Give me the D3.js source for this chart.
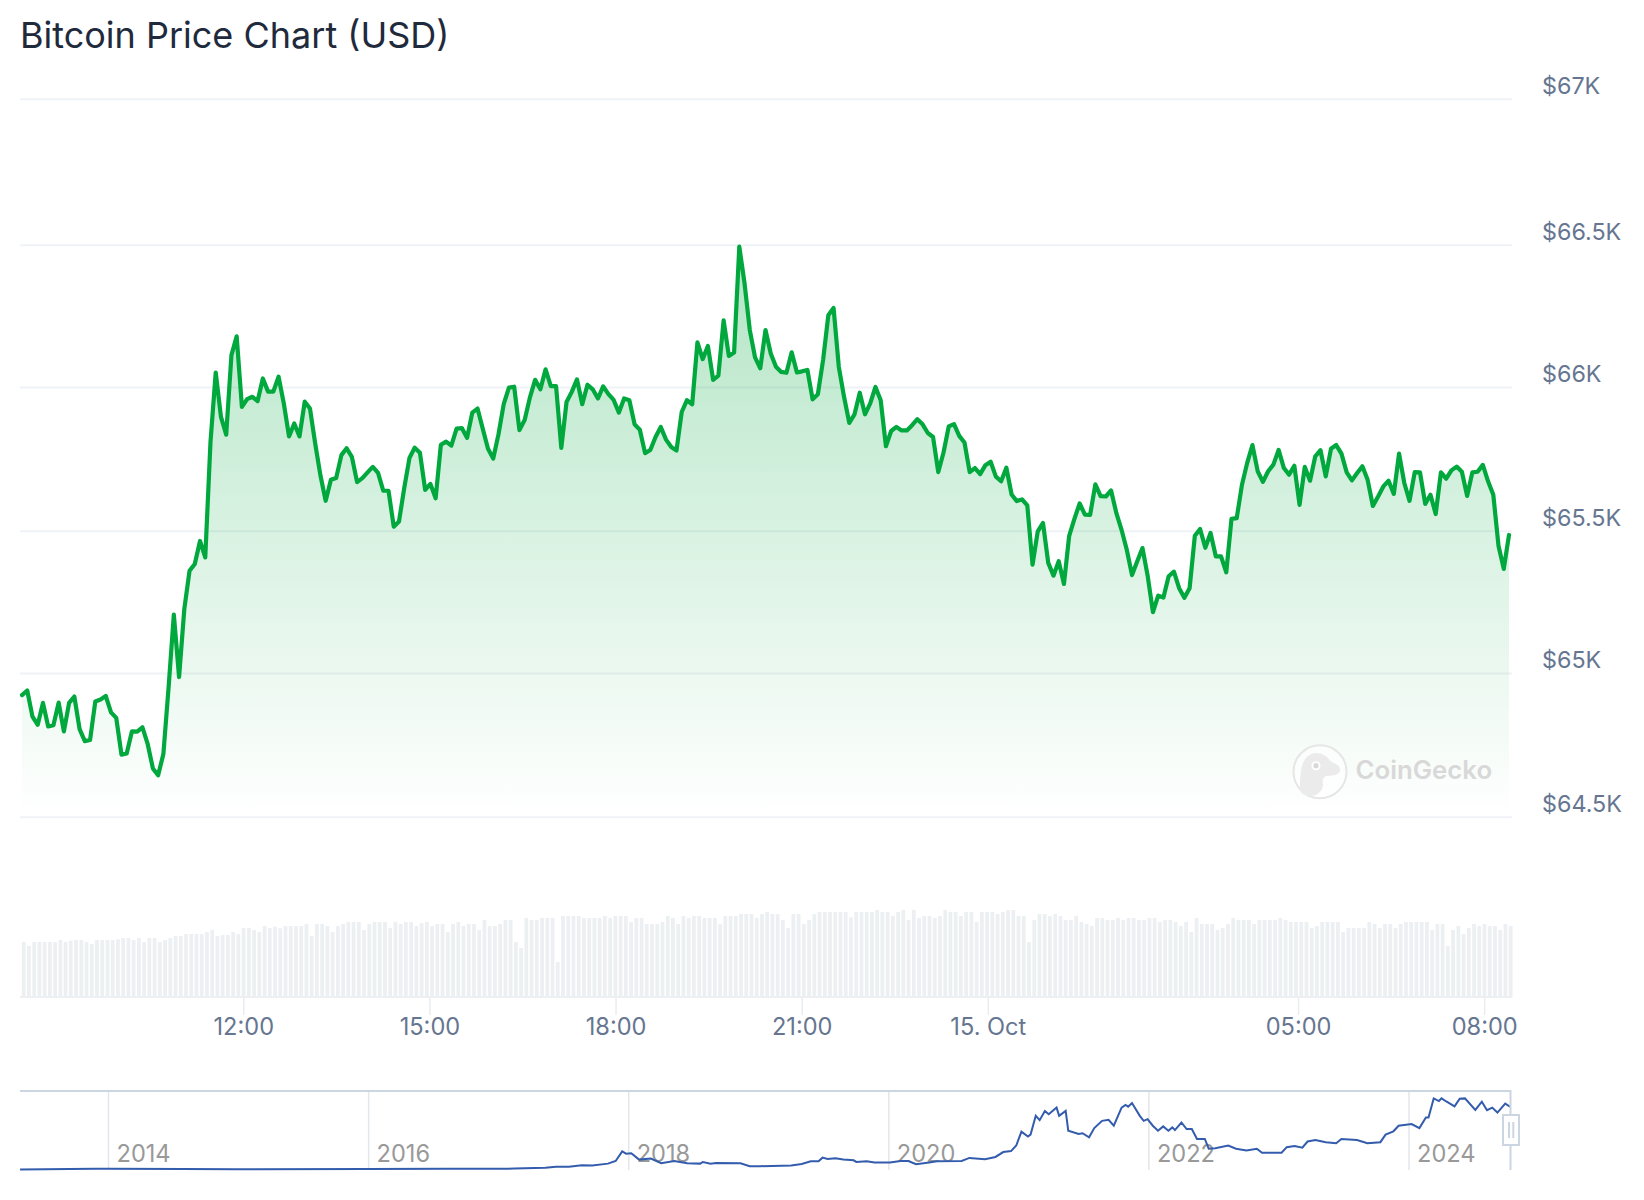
<!DOCTYPE html>
<html>
<head>
<meta charset="utf-8">
<title>Bitcoin Price Chart (USD)</title>
<script src="https://cdn.jsdelivr.net/npm/d3@7"></script>
<style>
html, body { margin: 0; padding: 0; background: #fff; }
text { font-family: Inter, "Noto Sans", sans-serif; }
</style>
</head>
<body>
<div id="chart"></div>
<script>
var width_chart = 1644
var height_chart = 1200

// 24h price, USD
var price_values = [
64923,64939,64848,64820,64896,64814,64818,64897,64797,64896,
64918,64805,64763,64767,64901,64908,64920,64863,64844,64716,
64720,64797,64796,64811,64753,64668,64644,64718,64951,65205,
64986,65225,65359,65383,65464,65406,65809,66051,65896,65834,
66112,66178,65931,65958,65966,65951,66030,65984,65984,66036,
65943,65828,65873,65828,65949,65925,65803,65692,65604,65677,
65683,65763,65787,65757,65669,65683,65703,65722,65701,65639,
65639,65514,65532,65648,65753,65789,65771,65642,65663,65613,
65799,65810,65796,65855,65857,65823,65911,65925,65855,65785,
65751,65835,65940,65998,66001,65850,65885,65963,66025,65992,
66062,66003,66003,65788,65948,65983,66027,65940,66008,65992,
65960,66002,65975,65955,65911,65960,65954,65870,65851,65770,
65781,65826,65861,65817,65791,65779,65913,65954,65940,66157,
66098,66144,66025,66040,66234,66109,66121,66493,66364,66200,
66104,66066,66200,66118,66071,66053,66050,66122,66051,66055,
66060,65957,65975,66095,66252,66278,66071,65966,65875,65905,
65980,65905,65943,66000,65954,65794,65847,65861,65849,65849,
65867,65888,65870,65840,65826,65704,65772,65863,65871,65830,
65807,65704,65718,65697,65728,65740,65688,65672,65719,65626,
65603,65609,65588,65381,65498,65527,65387,65342,65393,65313,
65482,65541,65595,65556,65555,65661,65620,65619,65640,65562,
65503,65433,65344,65393,65439,65340,65214,65272,65265,65340,
65356,65298,65264,65298,65482,65506,65440,65492,65410,65410,
65354,65541,65544,65660,65736,65798,65707,65670,65707,65730,
65781,65718,65695,65726,65590,65722,65674,65759,65780,65689,
65785,65798,65768,65703,65675,65701,65724,65677,65586,65619,
65654,65674,65628,65768,65666,65604,65704,65703,65593,65625,
65558,65703,65681,65710,65723,65705,65621,65703,65705,65729,
65672,65625,65446,65366,65485
]

// traded volume per point, hidden axis so units are relative
var volume_values = [
166,154,166,166,166,166,166,172,166,170,
172,172,166,160,172,172,172,172,174,178,
178,172,178,166,178,178,166,172,178,184,
184,190,190,190,190,196,202,184,187,187,
196,190,208,208,202,196,214,208,212,207,
214,214,214,214,220,184,220,220,214,196,
214,220,226,226,226,202,220,226,226,226,
208,226,220,226,226,214,222,226,214,220,
220,196,220,226,214,220,220,202,232,214,
214,220,232,232,166,148,238,232,232,238,
238,238,106,244,244,244,244,238,238,238,
238,244,238,244,244,244,226,238,238,220,
220,220,226,244,238,220,244,238,244,244,
238,238,238,220,244,244,244,250,250,250,
238,250,256,250,250,232,208,250,250,220,
232,250,256,
256,256,256,256,256,240,256,256,256,256,
262,256,256,244,256,262,232,262,238,244,
244,238,244,262,256,256,244,256,256,226,
256,256,256,250,256,262,262,244,244,166,
232,250,250,244,250,244,232,232,244,226,
220,214,238,238,232,232,238,232,238,238,
232,232,238,238,226,232,232,226,214,226,
196,238,220,220,220,202,208,220,238,232,
232,232,220,232,232,232,232,238,232,226,
226,226,226,208,214,226,226,226,226,196,
208,208,208,208,226,220,208,220,220,208,
220,226,226,226,226,226,202,220,220,154,
202,214,190,208,220,214,220,214,214,202,
220,214
]

// navigator: all time price
var nav_years = [
2013.32,2013.89,2014.0,2014.58,2014.98,2015.99,2016.59,2017.12,2017.36,2017.44,
2017.54,2017.64,2017.72,2017.84,2017.90,2017.95,2017.98,2018.02,2018.08,2018.17,
2018.25,2018.35,2018.45,2018.55,2018.57,2018.63,2018.67,2018.86,2018.93,2019.01,
2019.25,2019.33,2019.40,2019.46,2019.49,2019.53,2019.59,2019.65,2019.73,2019.75,
2019.83,2019.89,2020.01,2020.09,2020.15,2020.21,2020.31,2020.37,2020.56,2020.62,
2020.74,2020.82,2020.88,2020.94,2020.98,2021.02,2021.07,2021.09,2021.13,2021.16,
2021.20,2021.23,2021.29,2021.31,2021.36,2021.38,2021.46,2021.49,2021.54,2021.58,
2021.64,2021.69,2021.73,2021.79,2021.82,2021.84,2021.87,2021.93,2021.96,2021.99,
2022.03,2022.07,2022.11,2022.15,2022.18,2022.20,2022.25,2022.29,2022.33,2022.37,
2022.43,2022.46,2022.51,2022.61,2022.67,2022.75,2022.83,2022.87,2023.02,2023.06,
2023.12,2023.18,2023.22,2023.28,2023.36,2023.44,2023.48,2023.60,2023.68,2023.78,
2023.82,2023.88,2023.92,2024.02,2024.08,2024.13,2024.15,2024.19,2024.23,2024.25,
2024.29,2024.35,2024.39,2024.43,2024.51,2024.56,2024.60,2024.64,2024.68,2024.74,
2024.78
]
var nav_prices = [
100,670,800,620,330,430,650,900,1700,2700,
2700,4400,4000,6000,8700,18500,16100,16500,10100,11100,
6400,8700,6400,6000,7700,6000,6700,6400,3400,3400,
4000,5700,8400,8400,12100,10700,11400,10100,9400,7700,
8400,7100,7100,8700,8700,5400,7100,8400,8700,11800,
10400,12800,17800,18800,24500,38600,33600,35600,54800,50400,
59800,56400,63200,54800,59800,39600,36300,37000,32900,42300,
49700,50700,44700,63200,65900,64200,67900,54800,49700,51400,
44700,39600,44000,39600,43000,40300,48000,41300,41300,31200,
31200,21200,21800,24500,21200,19500,21200,17100,17100,22800,
23900,22200,28600,30200,27900,26900,31200,30200,26900,27900,
35600,39000,44700,46400,42300,53100,53100,72600,69900,72600,
69200,64500,72200,72600,60800,69200,60500,63200,58100,67200,
63800
]

var y_tick_values = [64500, 65000, 65500, 66000, 66500, 67000]
var y_tick_labels = ['$64.5K', '$65K', '$65.5K', '$66K', '$66.5K', '$67K']
var x_tick_values = [
  new Date(Date.UTC(2024, 9, 14, 12)),
  new Date(Date.UTC(2024, 9, 14, 15)),
  new Date(Date.UTC(2024, 9, 14, 18)),
  new Date(Date.UTC(2024, 9, 14, 21)),
  new Date(Date.UTC(2024, 9, 15, 0)),
  new Date(Date.UTC(2024, 9, 15, 5)),
  new Date(Date.UTC(2024, 9, 15, 8))
]
var x_tick_labels = ['12:00', '15:00', '18:00', '21:00', '15. Oct', '05:00', '08:00']
var nav_tick_years = [2014, 2016, 2018, 2020, 2022, 2024]

var time_start = new Date(Date.UTC(2024, 9, 14, 8, 26))
var time_end = new Date(Date.UTC(2024, 9, 15, 8, 24))
var point_times = d3.range(price_values.length).map(function (i) {
  return new Date(+time_start + (time_end - time_start) * i / (price_values.length - 1))
})

var x = d3.scaleUtc().domain([time_start, time_end]).range([22, 1509])
var y = d3.scaleLinear().domain(y_tick_values).range([816.7, 673, 530.7, 387, 244.7, 98.7])
var y_volume = d3.scaleLinear().domain([0, 300]).range([997.3, 897.3])
var x_nav = d3.scaleLinear().domain([2014, 2024]).range([108.5, 1409])
var y_nav = d3.scaleLinear().domain([0, 73000]).range([1169.5, 1098])

var svg = d3.select('#chart')
  .append('svg')
  .attr('width', width_chart)
  .attr('height', height_chart)
  .style('display', 'block')

var defs = svg.append('defs')
var gradient = defs.append('linearGradient')
  .attr('id', 'area_fill')
  .attr('gradientUnits', 'userSpaceOnUse')
  .attr('x1', 0).attr('x2', 0)
  .attr('y1', y(d3.max(price_values))).attr('y2', y(64500))
gradient.append('stop').attr('offset', '0%').attr('stop-color', '#00a83e').attr('stop-opacity', 0.3)
gradient.append('stop').attr('offset', '100%').attr('stop-color', '#00a83e').attr('stop-opacity', 0)

// title
svg.append('text')
  .attr('x', 20)
  .attr('y', 48)
  .text('Bitcoin Price Chart (USD)')
  .attr('fill', '#1f2a3d')
  .style('font-size', '36px')

// grid + y labels
var y_axis = d3.axisRight(y)
  .tickValues(y_tick_values)
  .tickSize(1492)
  .tickPadding(30)
  .tickFormat(function (d, i) { return y_tick_labels[i] })

var y_group = svg.append('g')
  .attr('transform', 'translate(20,0)')
  .call(y_axis)
y_group.select('.domain').remove()
y_group.selectAll('line').attr('stroke', '#eff2f6').attr('stroke-width', 2)
y_group.selectAll('text')
  .attr('fill', '#667690')
  .attr('dy', '-5.2')
  .style('font-size', '23.3px')
  .style('font-family', 'Inter')

// volume bars
svg.append('g')
  .selectAll('rect')
  .data(volume_values)
  .enter()
  .append('rect')
  .attr('x', function (d, i) { return x(point_times[i]) - 0.2 })
  .attr('y', function (d) { return y_volume(d) })
  .attr('width', 3.8)
  .attr('height', function (d) { return y_volume(0) - y_volume(d) })
  .attr('fill', '#edf0f3')

// area + line
var area = d3.area()
  .x(function (d, i) { return x(point_times[i]) })
  .y0(y(64500))
  .y1(function (d) { return y(d) })
var line = d3.line()
  .x(function (d, i) { return x(point_times[i]) })
  .y(function (d) { return y(d) })

svg.append('path')
  .datum(price_values)
  .attr('d', area)
  .attr('fill', 'url(#area_fill)')

// watermark
var mark = svg.append('g').attr('transform', 'translate(1320,771.7)')
mark.append('circle')
  .attr('r', 26.5)
  .attr('fill', '#fff')
  .attr('fill-opacity', 0.5)
  .attr('stroke', '#e6e6e6')
  .attr('stroke-width', 2)
mark.append('path')
  .attr('d', 'M-20,17 C-20,0 -19,-12 -10,-17 C-3,-21 6,-17 10,-11 C14,-8 20,-7 20,-2 C20,3 13,4 8,4 C3,4 2,9 3,13 C3,18 -2,24 -8,24 C-15,24 -20,22 -20,17 Z')
  .attr('fill', '#ebebeb')
mark.append('circle').attr('cx', -4).attr('cy', -6).attr('r', 4.5).attr('fill', '#fff')
mark.append('circle').attr('cx', -4).attr('cy', -6).attr('r', 2.6).attr('fill', '#d8d8d8')
mark.append('text')
  .attr('x', 35.5)
  .attr('y', 7.5)
  .text('CoinGecko')
  .attr('fill', '#d8d8d8')
  .style('font-size', '25.8px')
  .style('font-weight', '600')

svg.append('path')
  .datum(price_values)
  .attr('d', line)
  .attr('fill', 'none')
  .attr('stroke', '#00a83e')
  .attr('stroke-width', 4.2)
  .attr('stroke-linejoin', 'round')
  .attr('stroke-linecap', 'round')

// x axis
var x_axis = d3.axisBottom(x)
  .tickValues(x_tick_values)
  .tickSize(18)
  .tickPadding(3)
  .tickFormat(function (d, i) { return x_tick_labels[i] })

var x_group = svg.append('g')
  .attr('transform', 'translate(0,997)')
  .call(x_axis)
x_group.select('.domain').remove()
x_group.selectAll('line').attr('stroke', '#e9edf2').attr('stroke-width', 1.5)
x_group.selectAll('text')
  .attr('fill', '#667690')
  .style('font-size', '23.6px')
  .style('font-family', 'Inter')

svg.append('line')
  .attr('x1', 20).attr('x2', 1512)
  .attr('y1', 997).attr('y2', 997)
  .attr('stroke', '#edf0f3')
  .attr('stroke-width', 2)

// navigator
var nav_group = svg.append('g')
nav_group.selectAll('.nav_grid')
  .data(nav_tick_years)
  .enter()
  .append('line')
  .attr('x1', function (d) { return x_nav(d) })
  .attr('x2', function (d) { return x_nav(d) })
  .attr('y1', 1091)
  .attr('y2', 1170)
  .attr('stroke', '#e3e6ea')
  .attr('stroke-width', 1.5)
nav_group.selectAll('.nav_label')
  .data(nav_tick_years)
  .enter()
  .append('text')
  .attr('x', function (d) { return x_nav(d) + 8 })
  .attr('y', 1161.5)
  .text(function (d) { return d })
  .attr('fill', '#999999')
  .style('font-size', '23.6px')

nav_group.append('path')
  .datum(nav_prices)
  .attr('d', d3.line()
    .x(function (d, i) { return x_nav(nav_years[i]) })
    .y(function (d) { return y_nav(d) }))
  .attr('fill', 'none')
  .attr('stroke', '#335cad')
  .attr('stroke-width', 2)

nav_group.append('path')
  .attr('d', 'M20,1091 H1510.5 V1170')
  .attr('fill', 'none')
  .attr('stroke', '#ccd6e3')
  .attr('stroke-width', 2)

nav_group.append('rect')
  .attr('x', 1503).attr('y', 1115)
  .attr('width', 16).attr('height', 30)
  .attr('fill', '#fff')
  .attr('stroke', '#ccd6e3')
  .attr('stroke-width', 2)
nav_group.append('path')
  .attr('d', 'M1509,1122 V1138 M1513.3,1122 V1138')
  .attr('fill', 'none')
  .attr('stroke', '#ccd6e3')
  .attr('stroke-width', 2)
</script>
</body>
</html>
